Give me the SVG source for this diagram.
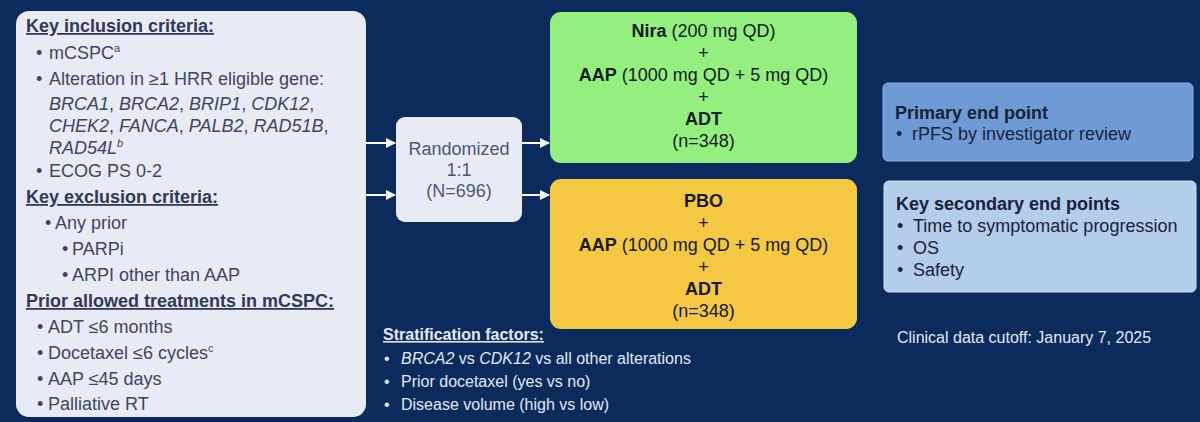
<svg xmlns="http://www.w3.org/2000/svg" width="1200" height="422" viewBox="0 0 1200 422">
<defs>
<marker id="ah" viewBox="0 0 10 10" refX="9" refY="5" markerWidth="5" markerHeight="5" orient="auto" markerUnits="strokeWidth"><path d="M0,0 L10,5 L0,10 z" fill="#ffffff"/></marker>
<style>
text{font-family:"Liberation Sans",Arial,sans-serif;}
.t{font-size:18px;fill:#3b4664;}
.h{font-size:18px;font-weight:bold;fill:#2f3a58;text-decoration:underline;}
.i{font-style:italic;}
.sup{font-size:11px;}
.arm{font-size:18px;fill:#151a24;text-anchor:middle;}
.b{font-weight:bold;}
.ep{font-size:18px;fill:#1a2238;}
.w{font-size:16px;fill:#e3e8f2;}
.conn{stroke:#ffffff;stroke-width:2;fill:none;marker-end:url(#ah);}
</style>
</defs>
<rect width="1200" height="422" fill="#0b2b5c"/>
<g id="criteria">
<rect x="16" y="11" width="350" height="406" rx="13" fill="#e8ebf3"/>
<text class="h" x="26" y="32">Key inclusion criteria:</text>
<text class="t" x="36" y="59">•</text><text class="t" x="49" y="59">mCSPC<tspan class="sup" dy="-7">a</tspan></text>
<text class="t" x="36" y="85">•</text><text class="t" x="49" y="85">Alteration in ≥1 HRR eligible gene:</text>
<text class="t i" x="49" y="110">BRCA1<tspan font-style="normal">, </tspan>BRCA2<tspan font-style="normal">, </tspan>BRIP1<tspan font-style="normal">, </tspan>CDK12<tspan font-style="normal">,</tspan></text>
<text class="t i" x="49" y="132">CHEK2<tspan font-style="normal">, </tspan>FANCA<tspan font-style="normal">, </tspan>PALB2<tspan font-style="normal">, </tspan>RAD51B<tspan font-style="normal">,</tspan></text>
<text class="t i" x="49" y="154">RAD54L<tspan class="sup" dy="-7">b</tspan></text>
<text class="t" x="36" y="177">•</text><text class="t" x="49" y="177">ECOG PS 0-2</text>
<text class="h" x="26" y="203">Key exclusion criteria:</text>
<text class="t" x="45" y="229">•</text><text class="t" x="55" y="229">Any prior</text>
<text class="t" x="62" y="255">•</text><text class="t" x="72" y="255">PARPi</text>
<text class="t" x="62" y="281">•</text><text class="t" x="72" y="281">ARPI other than AAP</text>
<text class="h" x="26" y="307">Prior allowed treatments in mCSPC:</text>
<text class="t" x="37" y="333">•</text><text class="t" x="48" y="333">ADT ≤6 months</text>
<text class="t" x="37" y="359">•</text><text class="t" x="48" y="359">Docetaxel ≤6 cycles<tspan class="sup" dy="-7">c</tspan></text>
<text class="t" x="37" y="385">•</text><text class="t" x="48" y="385">AAP ≤45 days</text>
<text class="t" x="37" y="410">•</text><text class="t" x="48" y="410">Palliative RT</text>
</g>
<g id="randomized">
<rect x="396" y="117" width="126" height="105" rx="9" fill="#e8ebf3"/>
<text x="459" y="155" font-size="18" fill="#4a5877" text-anchor="middle">Randomized</text>
<text x="459" y="176" font-size="18" fill="#4a5877" text-anchor="middle">1:1</text>
<text x="459" y="197" font-size="18" fill="#4a5877" text-anchor="middle">(N=696)</text>
</g>
<g id="arm-nira">
<rect x="550" y="12" width="307" height="151" rx="11" fill="#94f07e"/>
<text class="arm" x="703.5" y="37"><tspan class="b">Nira</tspan> (200 mg QD)</text>
<text class="arm" x="703.5" y="59">+</text>
<text class="arm" x="703.5" y="81"><tspan class="b">AAP</tspan> (1000 mg QD + 5 mg QD)</text>
<text class="arm" x="703.5" y="103">+</text>
<text class="arm b" x="703.5" y="125">ADT</text>
<text class="arm" x="703.5" y="147">(n=348)</text>
</g>
<g id="arm-pbo">
<rect x="550" y="179" width="307" height="150" rx="11" fill="#f4c842"/>
<text class="arm b" x="703.5" y="207">PBO</text>
<text class="arm" x="703.5" y="229">+</text>
<text class="arm" x="703.5" y="251"><tspan class="b">AAP</tspan> (1000 mg QD + 5 mg QD)</text>
<text class="arm" x="703.5" y="273">+</text>
<text class="arm b" x="703.5" y="295">ADT</text>
<text class="arm" x="703.5" y="317">(n=348)</text>
</g>
<g id="primary">
<rect x="883" y="83" width="310" height="78" rx="5" fill="#6e9bd5" stroke="#8db1e2" stroke-width="1"/>
<text class="ep b" x="895" y="119">Primary end point</text>
<text class="ep" x="896" y="140">•</text><text class="ep" x="912" y="140">rPFS by investigator review</text>
</g>
<g id="secondary">
<rect x="884" y="181" width="312" height="111" rx="5" fill="#b4cde9" stroke="#cfdff2" stroke-width="1"/>
<text class="ep b" x="896" y="210">Key secondary end points</text>
<text class="ep" x="897" y="232">•</text><text class="ep" x="913" y="232">Time to symptomatic progression</text>
<text class="ep" x="897" y="254">•</text><text class="ep" x="913" y="254">OS</text>
<text class="ep" x="897" y="276">•</text><text class="ep" x="913" y="276">Safety</text>
</g>
<g id="stratification">
<text x="383" y="340" font-size="16" font-weight="bold" fill="#e3e8f2" text-decoration="underline">Stratification factors:</text>
<text class="w" x="384" y="364">•</text><text class="w" x="401" y="364"><tspan font-style="italic">BRCA2</tspan> vs <tspan font-style="italic">CDK12</tspan> vs all other alterations</text>
<text class="w" x="384" y="387">•</text><text class="w" x="401" y="387">Prior docetaxel (yes vs no)</text>
<text class="w" x="384" y="410">•</text><text class="w" x="401" y="410">Disease volume (high vs low)</text>
</g>
<g id="cutoff">
<text class="w" x="897" y="343">Clinical data cutoff: January 7, 2025</text>
</g>
<g id="connectors">
<line class="conn" x1="366" y1="143" x2="395" y2="143"/>
<line class="conn" x1="366" y1="195" x2="395" y2="195"/>
<line class="conn" x1="522" y1="143" x2="549" y2="143"/>
<line class="conn" x1="522" y1="195" x2="549" y2="195"/>
</g>
</svg>
